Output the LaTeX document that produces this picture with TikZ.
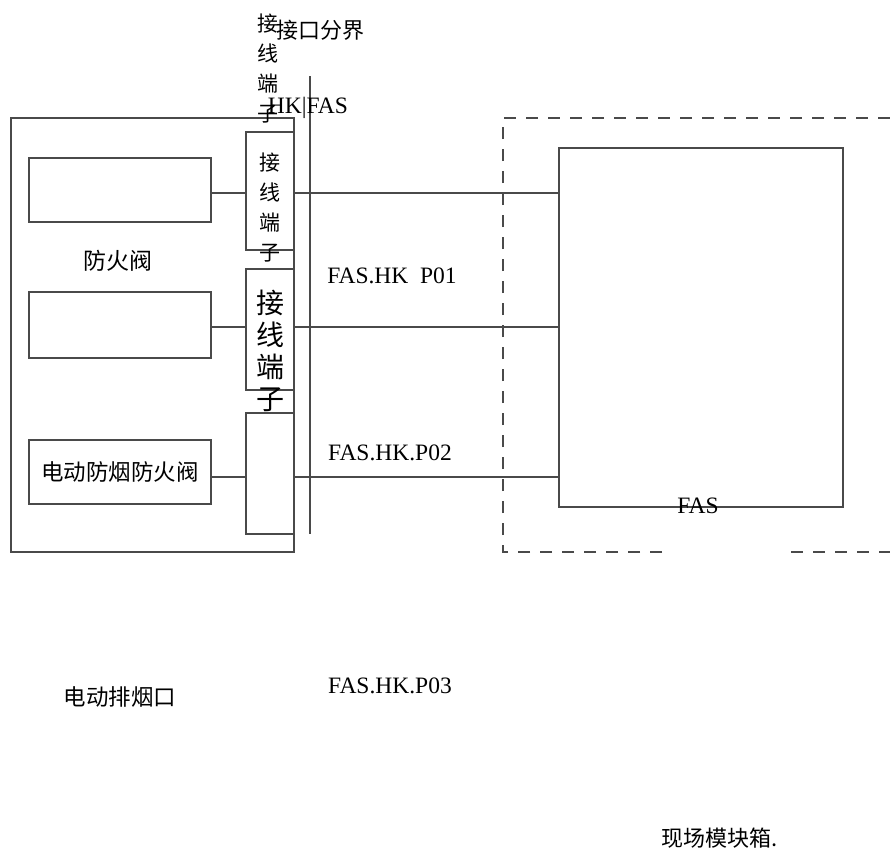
\documentclass[tikz,border=0pt]{standalone}
\usepackage{fontspec}
\setmainfont{Liberation Serif}
\newfontfamily\cjk{Noto Sans CJK SC}
\usetikzlibrary{positioning}
\definecolor{wire}{HTML}{4A4A4A}
\tikzset{
  box/.style={draw=wire,line width=1.9pt,minimum width=182pt,minimum height=64pt,inner sep=0pt},
  term/.style={draw=wire,line width=1.9pt,minimum width=48pt,minimum height=120pt,inner sep=0pt},
  link/.style={draw=wire,line width=1.9pt},
  txt/.style={inner sep=0pt,align=center,font=\fontsize{23.5}{26}\selectfont},
  cn/.style={txt,font=\cjk\fontsize{21}{30}\selectfont}
}
\begin{document}
\begin{tikzpicture}[x=1pt,y=-1pt]
    \useasboundingbox (0,0) rectangle (890,851);

    % left cabinet
    \node[draw=wire,line width=1.9pt,minimum width=283pt,minimum height=434pt] (cab) at (152.5,335) {};
    \node[box] (valve) at (120,190) {};
    \node[box,minimum height=66pt] (damper) at (120,325) {};
    \node[box] (smoke) at (120,472) {};
    \node[cn,font=\cjk\fontsize{22.5}{26}\selectfont] at (smoke.center) {电动防烟防火阀};

    % terminal blocks
    \node[term,minimum height=118pt] (ta) at (270,191) {};
    \node[term,minimum height=121pt] (tb) at (270,329.5) {};
    \node[term,minimum height=121pt] (tc) at (270,473.5) {};
    \node[cn] at (270,208) {接\\线\\端\\子};
    \node[cn,font=\cjk\fontsize{28}{32}\selectfont] at (270,351) {接\\线\\端\\子};

    % interface boundary
    \coordinate (btop) at (310,76);
    \coordinate (bbot) at (310,534);
    \draw[link] (btop) -- (bbot);

    % FAS side
    \node[draw=wire,line width=1.9pt,minimum width=284pt,minimum height=359pt] (fas) at (701,327.5) {};
    \node[txt] at (698,506) {FAS};
    \draw[wire,line width=1.9pt,dash pattern=on 12pt off 10pt] (662,552) -- (503,552) -- (503,118) -- (900,118);
    \draw[wire,line width=1.9pt,dash pattern=on 12pt off 10pt] (791,552) -- (900,552);

    % wiring
    \draw[link] (valve.east |- 0,193) -- (ta.west |- 0,193);
    \draw[link] (ta.east |- 0,193) -- (fas.west |- 0,193);
    \draw[link] (damper.east |- 0,327) -- (tb.west |- 0,327);
    \draw[link] (tb.east |- 0,327) -- (fas.west |- 0,327);
    \draw[link] (smoke.east |- 0,477) -- (tc.west |- 0,477);
    \draw[link] (tc.east |- 0,477) -- (fas.west |- 0,477);

    % labels
    \node[cn] at (268,69) {接\\线\\端\\子};
    \node[cn,font=\cjk\fontsize{22}{26}\selectfont] at (320,30) {接口分界};
    \node[txt] at (308,108) {HK|FAS};
    \node[cn,font=\cjk\fontsize{23}{26}\selectfont] at (118,261) {防火阀};
    \node[txt] at (392,276) {FAS.HK\ \ P01};
    \node[txt] at (390,453) {FAS.HK.P02};
    \node[txt] at (390,686) {FAS.HK.P03};
    \node[cn,font=\cjk\fontsize{22.5}{26}\selectfont] at (120,697) {电动排烟口};
    \node[cn,font=\cjk\fontsize{22}{26}\selectfont] at (720,838) {现场模块箱.};
\end{tikzpicture}
\end{document}
